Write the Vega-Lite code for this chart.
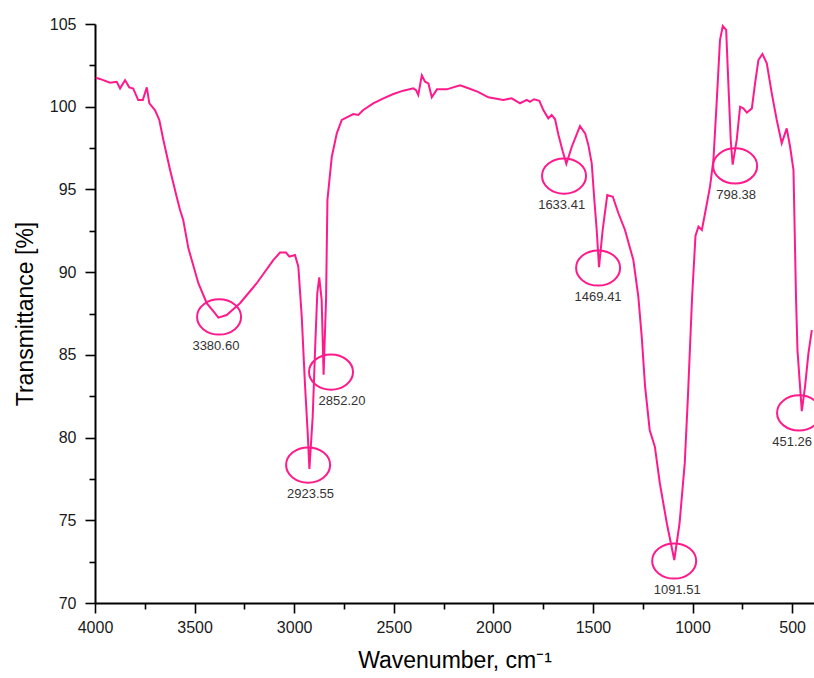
{
  "$schema": "https://vega.github.io/schema/vega-lite/v6.json",
  "width": 719,
  "height": 579,
  "autosize": "none",
  "padding": {"left": 95, "top": 24, "right": 0, "bottom": 75},
  "background": "white",
  "config": {
    "view": {"stroke": null},
    "font": "Liberation Sans",
    "axis": {"labelFont": "Liberation Sans", "titleFont": "Liberation Sans", "grid": false}
  },
  "datasets": {
    "spectrum": [
      {"wn": 3996, "t": 101.75}, {"wn": 3975, "t": 101.68}, {"wn": 3925, "t": 101.45}, {"wn": 3891, "t": 101.51},
      {"wn": 3874, "t": 101.11}, {"wn": 3849, "t": 101.6}, {"wn": 3828, "t": 101.17}, {"wn": 3808, "t": 101.1},
      {"wn": 3783, "t": 100.4}, {"wn": 3760, "t": 100.4}, {"wn": 3740, "t": 101.17}, {"wn": 3727, "t": 100.2},
      {"wn": 3699, "t": 99.8}, {"wn": 3677, "t": 99.2}, {"wn": 3657, "t": 98.0}, {"wn": 3623, "t": 96.17},
      {"wn": 3590, "t": 94.56}, {"wn": 3573, "t": 93.76}, {"wn": 3557, "t": 93.15}, {"wn": 3531, "t": 91.44},
      {"wn": 3481, "t": 89.33}, {"wn": 3439, "t": 88.12}, {"wn": 3397, "t": 87.51}, {"wn": 3380.6, "t": 87.25},
      {"wn": 3339, "t": 87.41}, {"wn": 3272, "t": 88.12}, {"wn": 3188, "t": 89.33}, {"wn": 3105, "t": 90.73},
      {"wn": 3071, "t": 91.18}, {"wn": 3041, "t": 91.18}, {"wn": 3024, "t": 90.94}, {"wn": 2996, "t": 91.04},
      {"wn": 2979, "t": 90.33}, {"wn": 2962, "t": 87.31}, {"wn": 2946, "t": 83.28}, {"wn": 2932, "t": 80.26},
      {"wn": 2923.55, "t": 78.1}, {"wn": 2907, "t": 81.26}, {"wn": 2895, "t": 85.29}, {"wn": 2884, "t": 88.72},
      {"wn": 2874, "t": 89.69}, {"wn": 2862, "t": 88.32}, {"wn": 2852.2, "t": 83.8}, {"wn": 2840, "t": 88.32},
      {"wn": 2833, "t": 94.36}, {"wn": 2823, "t": 95.57}, {"wn": 2811, "t": 96.98}, {"wn": 2786, "t": 98.39},
      {"wn": 2761, "t": 99.2}, {"wn": 2736, "t": 99.36}, {"wn": 2703, "t": 99.56}, {"wn": 2678, "t": 99.5},
      {"wn": 2653, "t": 99.8}, {"wn": 2603, "t": 100.2}, {"wn": 2552, "t": 100.5}, {"wn": 2502, "t": 100.77},
      {"wn": 2452, "t": 100.97}, {"wn": 2402, "t": 101.11}, {"wn": 2388, "t": 101.0}, {"wn": 2377, "t": 100.71},
      {"wn": 2359, "t": 101.9}, {"wn": 2343, "t": 101.51}, {"wn": 2326, "t": 101.41}, {"wn": 2309, "t": 100.57},
      {"wn": 2283, "t": 101.05}, {"wn": 2234, "t": 101.05}, {"wn": 2167, "t": 101.3}, {"wn": 2132, "t": 101.15},
      {"wn": 2077, "t": 100.9}, {"wn": 2025, "t": 100.57}, {"wn": 1950, "t": 100.41}, {"wn": 1908, "t": 100.51},
      {"wn": 1866, "t": 100.21}, {"wn": 1832, "t": 100.41}, {"wn": 1816, "t": 100.3}, {"wn": 1796, "t": 100.45},
      {"wn": 1769, "t": 100.36}, {"wn": 1749, "t": 99.8}, {"wn": 1724, "t": 99.3}, {"wn": 1707, "t": 99.5},
      {"wn": 1690, "t": 99.24}, {"wn": 1673, "t": 98.29}, {"wn": 1651, "t": 97.28}, {"wn": 1633.41, "t": 96.55},
      {"wn": 1606, "t": 97.58}, {"wn": 1565, "t": 98.83}, {"wn": 1539, "t": 98.39}, {"wn": 1523, "t": 97.69},
      {"wn": 1506, "t": 96.58}, {"wn": 1494, "t": 94.56}, {"wn": 1481, "t": 92.55}, {"wn": 1469.41, "t": 90.3},
      {"wn": 1451, "t": 92.55}, {"wn": 1428, "t": 94.66}, {"wn": 1400, "t": 94.56}, {"wn": 1372, "t": 93.56},
      {"wn": 1339, "t": 92.55}, {"wn": 1297, "t": 90.73}, {"wn": 1272, "t": 88.52}, {"wn": 1255, "t": 86.1},
      {"wn": 1238, "t": 83.08}, {"wn": 1215, "t": 80.46}, {"wn": 1189, "t": 79.45}, {"wn": 1164, "t": 77.24},
      {"wn": 1129, "t": 74.82}, {"wn": 1091.51, "t": 72.6}, {"wn": 1065, "t": 74.82}, {"wn": 1039, "t": 78.44},
      {"wn": 1023, "t": 82.47}, {"wn": 1002, "t": 88.5}, {"wn": 985, "t": 92.2}, {"wn": 970, "t": 92.75},
      {"wn": 953, "t": 92.55}, {"wn": 937, "t": 93.56}, {"wn": 912, "t": 95.17}, {"wn": 895, "t": 96.78},
      {"wn": 878, "t": 100.4}, {"wn": 862, "t": 104.03}, {"wn": 848, "t": 104.88}, {"wn": 831, "t": 104.64},
      {"wn": 820, "t": 101.41}, {"wn": 808, "t": 97.99}, {"wn": 798.38, "t": 96.5}, {"wn": 778, "t": 97.99},
      {"wn": 761, "t": 100.0}, {"wn": 745, "t": 99.9}, {"wn": 727, "t": 99.64}, {"wn": 702, "t": 99.9},
      {"wn": 686, "t": 101.41}, {"wn": 669, "t": 102.82}, {"wn": 649, "t": 103.19}, {"wn": 627, "t": 102.62},
      {"wn": 602, "t": 100.81}, {"wn": 577, "t": 99.2}, {"wn": 552, "t": 97.79}, {"wn": 527, "t": 98.69},
      {"wn": 510, "t": 97.58}, {"wn": 493, "t": 96.17}, {"wn": 480, "t": 88.32}, {"wn": 473, "t": 85.29},
      {"wn": 460, "t": 83.08}, {"wn": 451.26, "t": 81.6}, {"wn": 435, "t": 83.08}, {"wn": 418, "t": 85.09},
      {"wn": 401, "t": 86.5}
    ],
    "peaks": [
      {"label": "3380.60", "ex": 3377, "ey": 87.29, "lx": 3393},
      {"label": "2923.55", "ex": 2930, "ey": 78.34, "lx": 2918},
      {"label": "2852.20", "ex": 2815, "ey": 83.96, "lx": 2760},
      {"label": "1633.41", "ex": 1645, "ey": 95.81, "lx": 1657},
      {"label": "1469.41", "ex": 1474, "ey": 90.25, "lx": 1474},
      {"label": "1091.51", "ex": 1092, "ey": 72.54, "lx": 1077},
      {"label": "798.38", "ex": 786, "ey": 96.42, "lx": 781},
      {"label": "451.26", "ex": 465, "ey": 81.49, "lx": 500}
    ]
  },
  "layer": [
    {
      "data": {"name": "spectrum"},
      "mark": {"type": "line", "color": "#ff1a8c", "strokeWidth": 2, "clip": true, "interpolate": "linear"},
      "encoding": {
        "x": {
          "field": "wn", "type": "quantitative",
          "scale": {"domain": [4000, 390], "nice": false, "zero": false},
          "axis": {
            "orient": "bottom",
            "values": [4000, 3500, 3000, 2500, 2000, 1500, 1000, 500],
            "format": "d",
            "title": "Wavenumber, cm⁻¹",
            "titleFontSize": 23, "titleFontWeight": "normal", "titleColor": "#000000", "titlePadding": 14,
            "labelFontSize": 16, "labelColor": "#1a1a1a", "labelPadding": 6, "labelOverlap": false, "labelFlush": false,
            "tickSize": 10, "tickWidth": 1.6, "tickColor": "#000000",
            "domainColor": "#000000", "domainWidth": 2
          }
        },
        "y": {
          "field": "t", "type": "quantitative",
          "scale": {"domain": [70, 105], "nice": false, "zero": false},
          "axis": {
            "orient": "left",
            "values": [70, 75, 80, 85, 90, 95, 100, 105],
            "format": "d",
            "title": "Transmittance [%]",
            "titleFontSize": 23, "titleFontWeight": "normal", "titleColor": "#000000", "titlePadding": 12,
            "labelFontSize": 16, "labelColor": "#1a1a1a", "labelPadding": 9, "labelOverlap": false, "labelFlush": false,
            "tickSize": 10, "tickWidth": 1.6, "tickColor": "#000000",
            "domainColor": "#000000", "domainWidth": 2
          }
        }
      }
    },
    {
      "data": {"name": "peaks"},
      "mark": {
        "type": "point",
        "shape": "M-1,0A1,0.8,0,1,1,1,0A1,0.8,0,1,1,-1,0Z",
        "filled": false,
        "stroke": "#ff1a8c",
        "strokeWidth": 2,
        "size": 1936,
        "opacity": 1
      },
      "encoding": {
        "x": {
          "field": "ex", "type": "quantitative",
          "scale": {"domain": [4000, 390], "nice": false, "zero": false},
          "axis": {
            "orient": "bottom",
            "values": [3750, 3250, 2750, 2250, 1750, 1250, 750],
            "labels": false, "title": null, "domain": false,
            "tickSize": 6, "tickWidth": 1.6, "tickColor": "#000000"
          }
        },
        "y": {
          "field": "ey", "type": "quantitative",
          "scale": {"domain": [70, 105], "nice": false, "zero": false},
          "axis": {
            "orient": "left",
            "values": [72.5, 77.5, 82.5, 87.5, 92.5, 97.5, 102.5],
            "labels": false, "title": null, "domain": false,
            "tickSize": 6, "tickWidth": 1.6, "tickColor": "#000000"
          }
        }
      }
    },
    {
      "data": {"name": "peaks"},
      "mark": {"type": "text", "font": "Liberation Sans", "fontSize": 13, "color": "#333333", "dy": 29, "baseline": "middle", "align": "center"},
      "encoding": {
        "x": {"field": "lx", "type": "quantitative", "scale": {"domain": [4000, 390], "nice": false, "zero": false}, "axis": null},
        "y": {"field": "ey", "type": "quantitative", "scale": {"domain": [70, 105], "nice": false, "zero": false}, "axis": null},
        "text": {"field": "label", "type": "nominal"}
      }
    }
  ],
  "resolve": {"axis": {"x": "independent", "y": "independent"}}
}
